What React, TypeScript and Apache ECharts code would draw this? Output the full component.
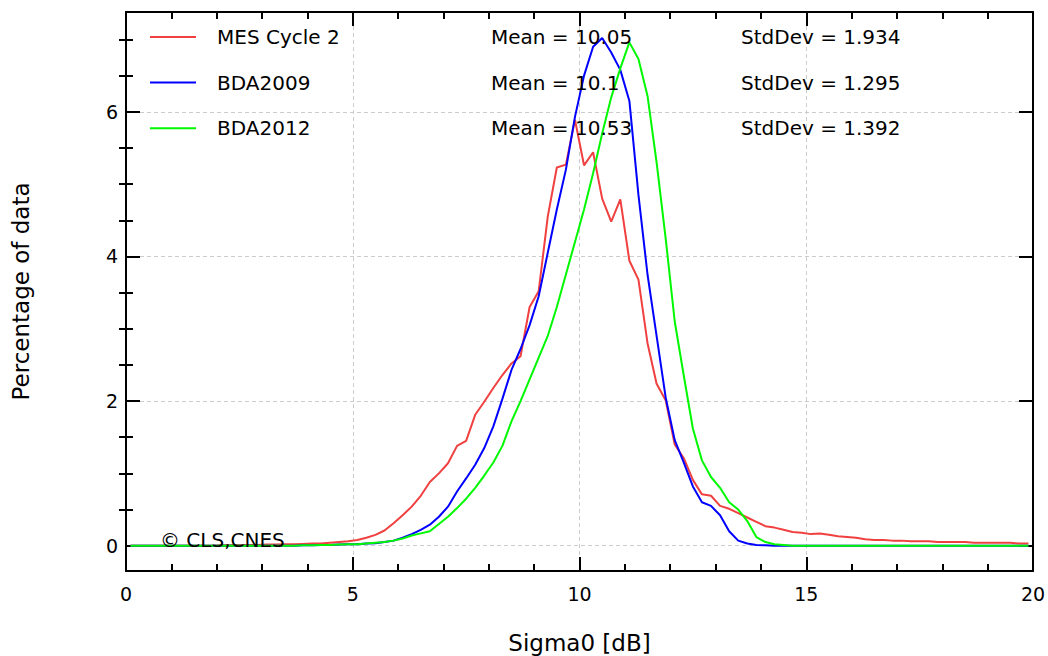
import React, { useEffect, useRef } from 'react';
import * as echarts from 'echarts';

const FONT = 'DejaVu Sans';

const seriesNames = ['MES Cycle 2', 'BDA2009', 'BDA2012'];
const seriesColors = ['#f04040', '#0000ff', '#00f800'];
const means = ['10.05', '10.1', '10.53'];
const stdDevs = ['1.934', '1.295', '1.392'];
const copyrightText = '© CLS,CNES';

// Histogram bin centres (0.2 dB bins)
const binCenters = Array.from({ length: 100 }, (_, i) => +(0.1 + 0.2 * i).toFixed(1));

const mesCycle2 = [
  0, 0, 0, 0, 0, 0, 0, 0, 0, 0,
  0.005, 0.005, 0.01, 0.01, 0.01, 0.015, 0.015, 0.02, 0.02, 0.025,
  0.03, 0.03, 0.04, 0.05, 0.06, 0.08, 0.11, 0.15, 0.21, 0.31,
  0.42, 0.54, 0.69, 0.88, 1.0, 1.14, 1.38, 1.45, 1.81, 1.99,
  2.18, 2.36, 2.52, 2.62, 3.3, 3.52, 4.55, 5.23, 5.27, 5.89,
  5.26, 5.44, 4.8, 4.48, 4.79, 3.94, 3.68, 2.8, 2.24, 2.01,
  1.4, 1.21, 0.91, 0.71, 0.69, 0.55, 0.51, 0.45, 0.39, 0.33,
  0.27, 0.25, 0.22, 0.19, 0.18, 0.16, 0.17, 0.15, 0.13, 0.12,
  0.11, 0.09, 0.08, 0.08, 0.07, 0.07, 0.06, 0.06, 0.06, 0.05,
  0.05, 0.05, 0.05, 0.04, 0.04, 0.04, 0.04, 0.04, 0.03, 0.03,
];

const bda2009 = [
  0, 0, 0, 0, 0, 0, 0, 0, 0, 0,
  0, 0, 0, 0, 0, 0, 0, 0, 0, 0.005,
  0.005, 0.01, 0.01, 0.015, 0.02, 0.02, 0.03, 0.035, 0.05, 0.07,
  0.11, 0.16, 0.22, 0.29, 0.4, 0.54, 0.75, 0.93, 1.12, 1.35,
  1.65, 2.03, 2.43, 2.72, 3.05, 3.45, 4.05, 4.65, 5.2, 5.93,
  6.5, 6.9, 7.02, 6.82, 6.58, 6.15, 4.85, 3.75, 2.9, 2.05,
  1.46, 1.15, 0.82, 0.6, 0.55, 0.42, 0.2, 0.07, 0.03, 0.01,
  0.005, 0, 0, 0, 0, 0, 0, 0, 0, 0,
  0, 0, 0, 0, 0, 0, 0, 0, 0, 0,
  0, 0, 0, 0, 0, 0, 0, 0, 0, 0,
];

const bda2012 = [
  0, 0, 0, 0, 0, 0, 0, 0, 0, 0,
  0, 0, 0, 0, 0, 0, 0, 0, 0, 0.005,
  0.005, 0.01, 0.01, 0.015, 0.02, 0.02, 0.03, 0.04, 0.05, 0.07,
  0.1, 0.14, 0.17, 0.2, 0.3, 0.4, 0.52, 0.65, 0.8, 0.97,
  1.15, 1.38, 1.72, 2.0, 2.3, 2.6, 2.9, 3.3, 3.75, 4.2,
  4.65, 5.15, 5.7, 6.2, 6.6, 6.96, 6.73, 6.22, 5.3, 4.25,
  3.1, 2.35, 1.62, 1.18, 0.95, 0.8, 0.6, 0.5, 0.34, 0.12,
  0.05, 0.02, 0.01, 0, 0, 0, 0, 0, 0, 0,
  0, 0, 0, 0, 0, 0, 0, 0, 0, 0,
  0, 0, 0, 0, 0, 0, 0, 0, 0, 0,
];

const seriesValues = [mesCycle2, bda2009, bda2012];

const xMin = 0;
const xMax = 20;
const xInterval = 5;
const yMin = -0.35;
const yMax = 7.38;
const yMajorTicks = [0, 2, 4, 6];
const yMinorTicks = [0.5, 1, 1.5, 2.5, 3, 3.5, 4.5, 5, 5.5, 6.5, 7];

export default function App() {
  const ref = useRef<HTMLDivElement>(null);

  useEffect(() => {
    if (!ref.current) return;
    const chart = echarts.init(ref.current, undefined, { renderer: 'svg' });

    const black = '#000';
    const axisLine = { show: true, onZero: false, lineStyle: { color: black, width: 2 } };
    const tickStyle = { color: black, width: 2 };
    const gridLine = { show: true, lineStyle: { color: '#cccccc', width: 1, type: [4, 3] as any } };

    const xBase = (pos: 'bottom' | 'top') => ({
      type: 'value',
      position: pos,
      min: xMin,
      max: xMax,
      interval: xInterval,
      axisLine,
      axisTick: { show: true, inside: true, length: 14, lineStyle: tickStyle },
      minorTick: { show: true, splitNumber: 5, length: 7, lineStyle: tickStyle },
    });

    const yBase = (pos: 'left' | 'right', ticks: number[], len: number, showLine: boolean) => ({
      type: 'value',
      position: pos,
      min: yMin,
      max: yMax,
      axisLine: showLine ? axisLine : { show: false },
      axisTick: { show: true, inside: true, length: len, customValues: ticks, lineStyle: tickStyle },
      axisLabel: { show: false },
      splitLine: { show: false },
    });

    const rowsY = [37, 83, 128];
    const graphic: any[] = [];
    seriesNames.forEach((_, i) => {
      graphic.push({
        type: 'text',
        x: 491,
        y: rowsY[i],
        style: { text: `Mean = ${means[i]}`, fontSize: 20, fontFamily: FONT, fill: black, verticalAlign: 'middle' },
        z: 10,
      });
      graphic.push({
        type: 'text',
        x: 741,
        y: rowsY[i],
        style: { text: `StdDev = ${stdDevs[i]}`, fontSize: 20, fontFamily: FONT, fill: black, verticalAlign: 'middle' },
        z: 10,
      });
    });
    graphic.push({
      type: 'text',
      x: 160,
      y: 540,
      style: { text: copyrightText, fontSize: 20, fontFamily: FONT, fill: black, verticalAlign: 'middle' },
      z: 10,
    });

    chart.setOption({
      animation: false,
      backgroundColor: '#ffffff',
      textStyle: { fontFamily: FONT },
      grid: { left: 126, right: 15, top: 12, bottom: 85, containLabel: false, outerBoundsMode: 'none' },
      legend: {
        data: seriesNames,
        orient: 'vertical',
        left: 144,
        top: 22,
        itemWidth: 46,
        itemHeight: 14,
        itemGap: 25.6,
        selectedMode: false,
        itemStyle: { opacity: 0 },
        formatter: (n: string) => `{t|${n}}`,
        textStyle: {
          rich: { t: { fontSize: 20, fontFamily: FONT, color: black, padding: [0, 0, 0, 16], lineHeight: 24 } },
        },
      },
      xAxis: [
        {
          ...xBase('bottom'),
          axisLabel: { show: true, fontSize: 19, fontFamily: FONT, color: black, margin: 13 },
          splitLine: gridLine,
          name: 'Sigma0 [dB]',
          nameLocation: 'middle',
          nameGap: 60,
          nameTextStyle: { fontSize: 23, fontFamily: FONT, color: black },
        },
        {
          ...xBase('top'),
          axisLabel: { show: false },
          splitLine: { show: false },
        },
      ],
      yAxis: [
        {
          ...yBase('left', yMajorTicks, 14, true),
          axisLabel: { show: true, customValues: yMajorTicks, fontSize: 19, fontFamily: FONT, color: black, margin: 8 },
          splitLine: gridLine,
          name: 'Percentage of data',
          nameLocation: 'middle',
          nameGap: 94,
          nameRotate: 90,
          nameTextStyle: { fontSize: 23, fontFamily: FONT, color: black },
        },
        yBase('left', yMinorTicks, 7, false),
        yBase('right', yMajorTicks, 14, true),
        yBase('right', yMinorTicks, 7, false),
      ],
      series: seriesNames.map((name, i) => ({
        name,
        type: 'line',
        xAxisIndex: 0,
        yAxisIndex: 0,
        symbol: 'none',
        showSymbol: false,
        color: seriesColors[i],
        lineStyle: { color: seriesColors[i], width: 2 },
        data: binCenters.map((x, k) => [x, seriesValues[i][k]]),
        z: 3 + i,
      })),
      graphic,
    });

    return () => chart.dispose();
  }, []);

  return (
    <div
      ref={ref}
      style={{ position: 'fixed', left: 0, top: 0, width: 1048, height: 656, background: '#fff' }}
    />
  );
}
